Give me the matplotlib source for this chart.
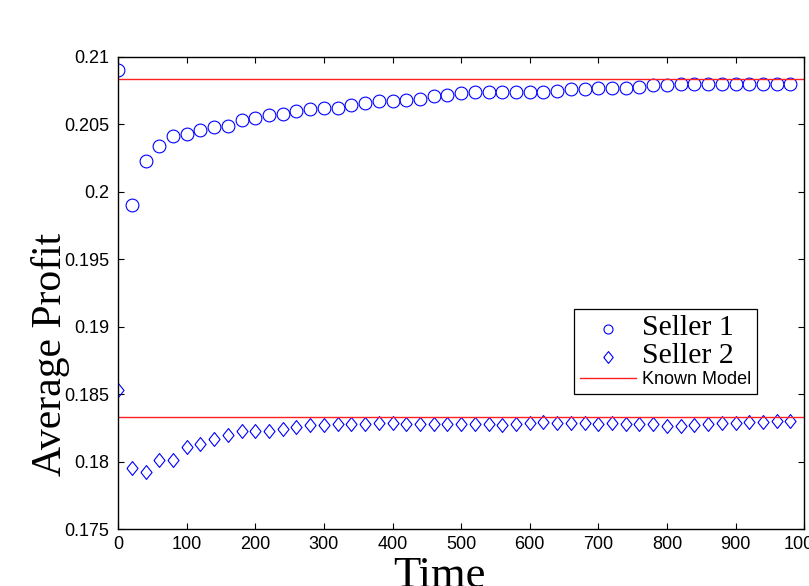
import numpy as np
import matplotlib.pyplot as plt

time = list(range(0, 1000, 20))

seller1 = [0.2090, 0.1990, 0.2023, 0.2034, 0.2041, 0.2043, 0.2046, 0.2048, 0.2049, 0.2053,
           0.2055, 0.2057, 0.2058, 0.2060, 0.2061, 0.2062, 0.2062, 0.2064, 0.2066, 0.2067,
           0.2067, 0.2068, 0.2069, 0.2071, 0.2072, 0.2073, 0.2074, 0.2074, 0.2074, 0.2074,
           0.2074, 0.2074, 0.2075, 0.2076, 0.2076, 0.2077, 0.2077, 0.2077, 0.2078, 0.2079,
           0.2079, 0.2080, 0.2080, 0.2080, 0.2080, 0.2080, 0.2080, 0.2080, 0.2080, 0.2080]

seller2 = [0.1853, 0.17955, 0.17925, 0.1801, 0.1801, 0.1811, 0.1813, 0.1817, 0.1820, 0.18225,
           0.1823, 0.1823, 0.1824, 0.1826, 0.1827, 0.1827, 0.1828, 0.1828, 0.1828, 0.1829,
           0.1829, 0.1828, 0.1828, 0.1828, 0.1828, 0.1828, 0.1828, 0.1828, 0.1827, 0.1828,
           0.1829, 0.18293, 0.1829, 0.1829, 0.1829, 0.1828, 0.1829, 0.1828, 0.1828, 0.1828,
           0.18265, 0.18265, 0.1827, 0.1828, 0.1829, 0.1829, 0.18293, 0.18293, 0.1830, 0.1830]

known1 = 0.20833
known2 = 0.18333

yticks = [0.175, 0.18, 0.185, 0.19, 0.195, 0.2, 0.205, 0.21]
ytick_labels = ['0.175', '0.18', '0.185', '0.19', '0.195', '0.2', '0.205', '0.21']

plt.rcParams['font.family'] = ['Liberation Sans', 'DejaVu Sans']

# matlab style diamond, a bit taller than wide
diamond = [(-0.8, 0), (0, 1), (0.8, 0), (0, -1), (-0.8, 0)]

fig = plt.figure(figsize=(8.09, 5.86), dpi=100)
ax = fig.add_axes([0.146, 0.097, 0.848, 0.806])

ax.plot(time, seller1, 'o', color='blue', markerfacecolor='none', markersize=9.2,
        markeredgewidth=0.8, label='Seller 1')
ax.plot(time, seller2, marker=diamond, linestyle='none', color='blue', markerfacecolor='none',
        markersize=10, markeredgewidth=0.8, label='Seller 2')
ax.axhline(known1, color='#ff2020', linewidth=1.0, label='Known Model')
ax.axhline(known2, color='#ff2020', linewidth=1.0)

ax.set_xlim(0, 1000)
ax.set_ylim(0.175, 0.21)
ax.set_xticks(range(0, 1001, 100))
ax.set_yticks(yticks)
ax.set_yticklabels(ytick_labels)
ax.tick_params(direction='in', top=True, right=True, length=4.5, labelsize=13)
ax.tick_params(axis='x', pad=4.7)
ax.tick_params(axis='y', pad=6.5)
for s in ax.spines.values():
    s.set_linewidth(1.0)

ax.set_xlabel('Time', family='Liberation Serif', fontsize=32)
ax.xaxis.set_label_coords(0.469, -0.057)
ax.set_ylabel('Average Profit', family='Liberation Serif', fontsize=30)
ax.yaxis.set_label_coords(-0.070, 0.37)

leg = ax.legend(loc='upper left', bbox_to_anchor=(0.664, 0.466), fancybox=False,
                edgecolor='black', framealpha=1, fontsize=13, handlelength=3.1,
                borderpad=0.35, labelspacing=0.1, handletextpad=0.33, borderaxespad=0)
leg.get_frame().set_linewidth(0.9)
texts = leg.get_texts()
texts[0].set_fontfamily('Liberation Serif')
texts[0].set_fontsize(21.5)
texts[1].set_fontfamily('Liberation Serif')
texts[1].set_fontsize(21.5)
leg.legend_handles[0].set_markersize(6.5)
leg.legend_handles[1].set_markersize(8.5)

fig.savefig('out.png', dpi=100)
